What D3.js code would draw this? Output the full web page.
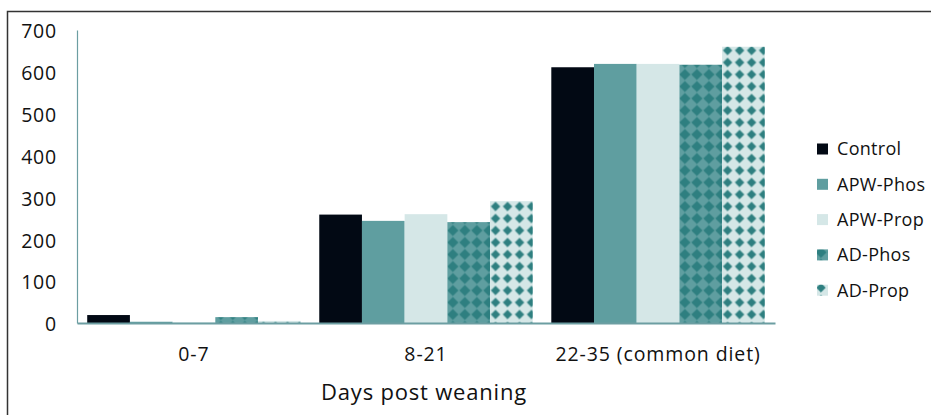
<!DOCTYPE html>
<html>
<head>
<meta charset="utf-8">
<script src="https://cdn.jsdelivr.net/npm/d3@7"></script>
<style>
  html, body { margin: 0; padding: 0; background: #fff; }
  svg { display: block; font-family: "Open Sans", sans-serif; }
</style>
</head>
<body>
<svg id="chart" width="931" height="415"></svg>
<script>
// ---- data ----
const categories = ["0-7", "8-21", "22-35 (common diet)"];
const seriesNames = ["Control", "APW-Phos", "APW-Prop", "AD-Phos", "AD-Prop"];
const control  = [19, 259, 611];
const apwPhos  = [3, 244, 619];
const apwProp  = [1.5, 260, 619];
const adPhos   = [14, 241, 617];
const adProp   = [5, 291, 660];
const yTicks = [0, 100, 200, 300, 400, 500, 600, 700];
const xTitle = "Days post weaning";

const seriesValues = [control, apwPhos, apwProp, adPhos, adProp];

// ---- styles ----
const solidColors = { "Control": "#020914", "APW-Phos": "#5f9ea0", "APW-Prop": "#d5e7e7" };
const patternStyle = {
  "AD-Phos": { bg: "#5f9ea0", fg: "#2e7f80", r: 5.3 },
  "AD-Prop": { bg: "#d5e7e7", fg: "#2e7f80", r: 4.4 }
};

const svg = d3.select("#chart");
const defs = svg.append("defs");

// outer frame
svg.append("rect")
  .attr("x", 7.5).attr("y", 11.5).attr("width", 960).attr("height", 440)
  .attr("fill", "none").attr("stroke", "#333").attr("stroke-width", 1.5);

const x0 = d3.scaleBand().domain(categories).range([77, 775]).paddingInner(0.08).paddingOuter(0.044);
const x1 = d3.scaleBand().domain(seriesNames).range([0, x0.bandwidth()]);
const y = d3.scaleLinear().domain([0, 700]).range([323, 30]);

const TILE = 12;
function makePattern(id, name, ox, oy) {
  const s = patternStyle[name];
  const p = defs.append("pattern")
    .attr("id", id)
    .attr("patternUnits", "userSpaceOnUse")
    .attr("x", ox).attr("y", oy)
    .attr("width", TILE).attr("height", TILE);
  p.append("rect").attr("width", TILE).attr("height", TILE).attr("fill", s.bg);
  const c = TILE / 2, r = s.r;
  p.append("path")
    .attr("d", `M${c},${c - r} L${c + r},${c} L${c},${c + r} L${c - r},${c} Z`)
    .attr("fill", s.fg)
    .attr("stroke", s.fg).attr("stroke-width", 0.6).attr("stroke-linejoin", "round");
}

// build bar data
const bars = [];
categories.forEach((cat, gi) => {
  seriesNames.forEach((name, si) => {
    bars.push({ cat, gi, name, si, value: seriesValues[si][gi] });
  });
});

bars.forEach(b => {
  if (patternStyle[b.name]) {
    const bx = x0(b.cat) + x1(b.name);
    b.pid = `pat-${b.si}-${b.gi}`;
    makePattern(b.pid, b.name, bx + 5.5 - TILE / 2, y(0) - 8.5 - TILE / 2);
  }
});

const fillOf = b => patternStyle[b.name] ? `url(#${b.pid})` : solidColors[b.name];

svg.append("g").selectAll("rect")
  .data(bars)
  .join("rect")
  .attr("x", d => x0(d.cat) + x1(d.name))
  .attr("y", d => y(d.value))
  .attr("width", x1.bandwidth())
  .attr("height", d => y(0) - y(d.value))
  .attr("fill", fillOf);

// Y axis
const yAxis = svg.append("g")
  .attr("transform", "translate(77,0)")
  .call(d3.axisLeft(y).tickValues(yTicks).tickSize(0).tickPadding(20).tickFormat(d3.format("d")));
yAxis.select(".domain").attr("stroke", "#6c9ea2").attr("stroke-width", 1.2);
yAxis.selectAll("text")
  .attr("font-family", "Open Sans, sans-serif")
  .attr("font-size", 19.5).attr("fill", "#111")
  .attr("letter-spacing", 0.8)
  .attr("dy", "0.4em");

// X axis
const xAxis = svg.append("g")
  .attr("transform", `translate(0,${y(0)})`)
  .call(d3.axisBottom(x0).tickSize(0).tickPadding(24));
xAxis.select(".domain").attr("stroke", "#6c9ea2").attr("stroke-width", 2);
xAxis.selectAll("text")
  .attr("font-family", "Open Sans, sans-serif")
  .attr("font-size", 19.5).attr("fill", "#111")
  .attr("letter-spacing", 0.9);

// X title
svg.append("text")
  .attr("x", 424).attr("y", 400)
  .attr("text-anchor", "middle")
  .attr("font-size", 22).attr("fill", "#111")
  .attr("letter-spacing", 0.8)
  .text(xTitle);

// Legend
const legend = svg.append("g");
seriesNames.forEach((name, i) => {
  const cy = 149 + i * 35.3;
  let fill = solidColors[name];
  if (patternStyle[name]) {
    const id = `leg-pat-${i}`;
    makePattern(id, name, 817 - 2, cy - 5.5 - 3);
    fill = `url(#${id})`;
  }
  legend.append("rect")
    .attr("x", 817).attr("y", cy - 5.5)
    .attr("width", 11).attr("height", 11)
    .attr("fill", fill);
  legend.append("text")
    .attr("x", 837).attr("y", cy)
    .attr("dy", "0.36em")
    .attr("font-size", 18).attr("fill", "#111")
    .attr("letter-spacing", 0.3)
    .text(name);
});
</script>
</body>
</html>
